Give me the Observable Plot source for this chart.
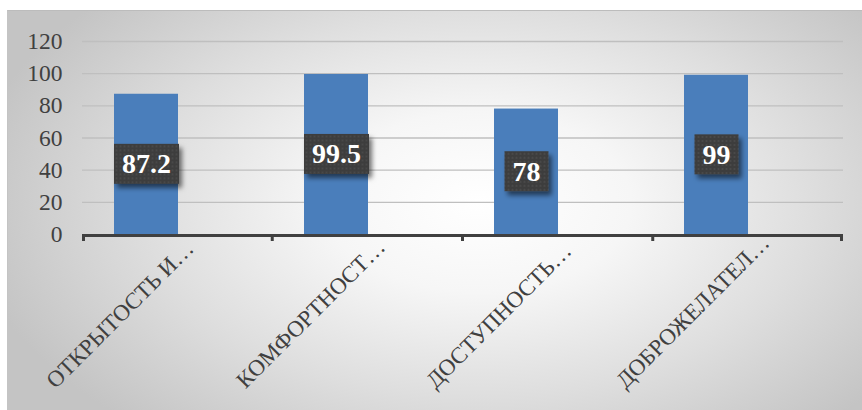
<!DOCTYPE html>
<html>
<head>
<meta charset="utf-8">
<script src="https://cdn.jsdelivr.net/npm/d3@7"></script>
<script src="https://cdn.jsdelivr.net/npm/@observablehq/plot@0.6"></script>
<style>
  html, body { margin: 0; padding: 0; background: #ffffff; font-family: 'Liberation Serif'; }
  #wrap { position: relative; width: 862px; height: 410px; overflow: hidden; }
  #frame {
    position: absolute; left: 7px; top: 10px; right: 0; bottom: 0;
    border-top: 1px solid #bcbcbc; border-left: 1px solid #c4c4c4;
    background: radial-gradient(ellipse 60% 75% at 55% 48%, #ffffff 0%, #f6f6f6 30%, #dedede 65%, #c4c4c4 100%);
  }
  #chart { position: absolute; left: 0; top: 0; }
</style>
</head>
<body>
<div id="wrap"><div id="frame"></div><div id="chart"></div></div>
<script>
const categories = ["ОТКРЫТОСТЬ И…", "КОМФОРТНОСТ…", "ДОСТУПНОСТЬ…", "ДОБРОЖЕЛАТЕЛ…"];
const values = [87.2, 99.5, 78, 99];
const yTicks = [0, 20, 40, 60, 80, 100, 120];

const data = categories.map((c, i) => ({cat: c, value: values[i]}));

const tickMarks = (index, scales, vals, dims) => {
  const {width, height, marginLeft, marginRight, marginBottom} = dims;
  const n = categories.length;
  const step = (width - marginLeft - marginRight) / n;
  const g = d3.create("svg:g");
  for (let i = 0; i <= n; i++) {
    const x = marginLeft + i * step + (i === 0 ? 1.5 : i === n ? -1.5 : 0);
    g.append("line")
      .attr("x1", x).attr("x2", x)
      .attr("y1", height - marginBottom).attr("y2", height - marginBottom + 7)
      .attr("stroke", "#404040").attr("stroke-width", 3);
  }
  return g.node();
};

const plot = Plot.plot({
  width: 862,
  height: 410,
  marginLeft: 82,
  marginRight: 19,
  marginTop: 41,
  marginBottom: 176,
  style: "background: transparent; color: #404040; overflow: visible; font-family: 'Liberation Serif';",
  x: {domain: categories, axis: null, paddingInner: 0.6632, paddingOuter: 0.3342, align: 0.252},
  y: {domain: [0, 120], axis: null},
  marks: [
    Plot.ruleY(yTicks.filter(d => d > 0), {stroke: "#bfbfbf", strokeWidth: 1.4}),
    Plot.axisY({ticks: yTicks, tickSize: 0, tickPadding: 20, fontSize: 23.5, label: null, fill: "#404040"}),
    Plot.barY(data, {x: "cat", y: "value", fill: "#4a7ebb"}),
    Plot.ruleY([0], {stroke: "#404040", strokeWidth: 3, dy: 1}),
    tickMarks,
    Plot.text(data, {x: "cat", y: d => d.value / 2, text: d => String(d.value), fill: "white",
      fontWeight: "bold", fontSize: 28}),
    Plot.text(categories, {x: d => d, frameAnchor: "bottom", text: d => d, rotate: -45, textAnchor: "start",
      dx: -91, dy: 155, fontSize: 23, fill: "#404040"})
  ]
});

document.getElementById("chart").appendChild(plot);

const svg = d3.select(plot);
svg.attr("font-family", "Liberation Serif");
svg.selectAll("g").each(function() {
  if (this.hasAttribute("font-family")) this.setAttribute("font-family", "Liberation Serif");
});
svg.selectAll("text").each(function() {
  this.setAttribute("font-family", "Liberation Serif");
  this.style.fontFamily = "'Liberation Serif'";
  this.style.fontVariant = "normal";
});

// defs: dotted pattern + shadow
const defs = svg.insert("defs", ":first-child");
const pat = defs.append("pattern").attr("id", "dots").attr("width", 4).attr("height", 4)
  .attr("patternUnits", "userSpaceOnUse");
pat.append("rect").attr("width", 4).attr("height", 4).attr("fill", "#3d3d3d");
pat.append("circle").attr("cx", 2).attr("cy", 2).attr("r", 0.75).attr("fill", "#5a5a5a");
const f = defs.append("filter").attr("id", "shadow").attr("x", "-30%").attr("y", "-30%")
  .attr("width", "160%").attr("height", "170%");
f.append("feDropShadow").attr("dx", 3).attr("dy", 4).attr("stdDeviation", 2.5)
  .attr("flood-color", "#000").attr("flood-opacity", 0.55);

// label boxes behind value text (first text mark group = value labels)
const textGroups = svg.selectAll('g[aria-label="text"]').nodes();
const valueGroup = textGroups[0];
if (valueGroup) {
  d3.select(valueGroup).selectAll("text").each(function() {
    const t = this;
    const bb = t.getBBox();
    const cy = bb.y + bb.height / 2;
    const w = bb.width + 16, h = 40;
    const r = document.createElementNS("http://www.w3.org/2000/svg", "rect");
    r.setAttribute("x", bb.x + bb.width / 2 - w / 2);
    r.setAttribute("y", cy - h / 2);
    r.setAttribute("width", w);
    r.setAttribute("height", h);
    r.setAttribute("fill", "url(#dots)");
    r.setAttribute("filter", "url(#shadow)");
    const tr = t.getAttribute("transform");
    if (tr) r.setAttribute("transform", tr);
    t.parentNode.insertBefore(r, t);
  });
}
</script>
</body>
</html>
